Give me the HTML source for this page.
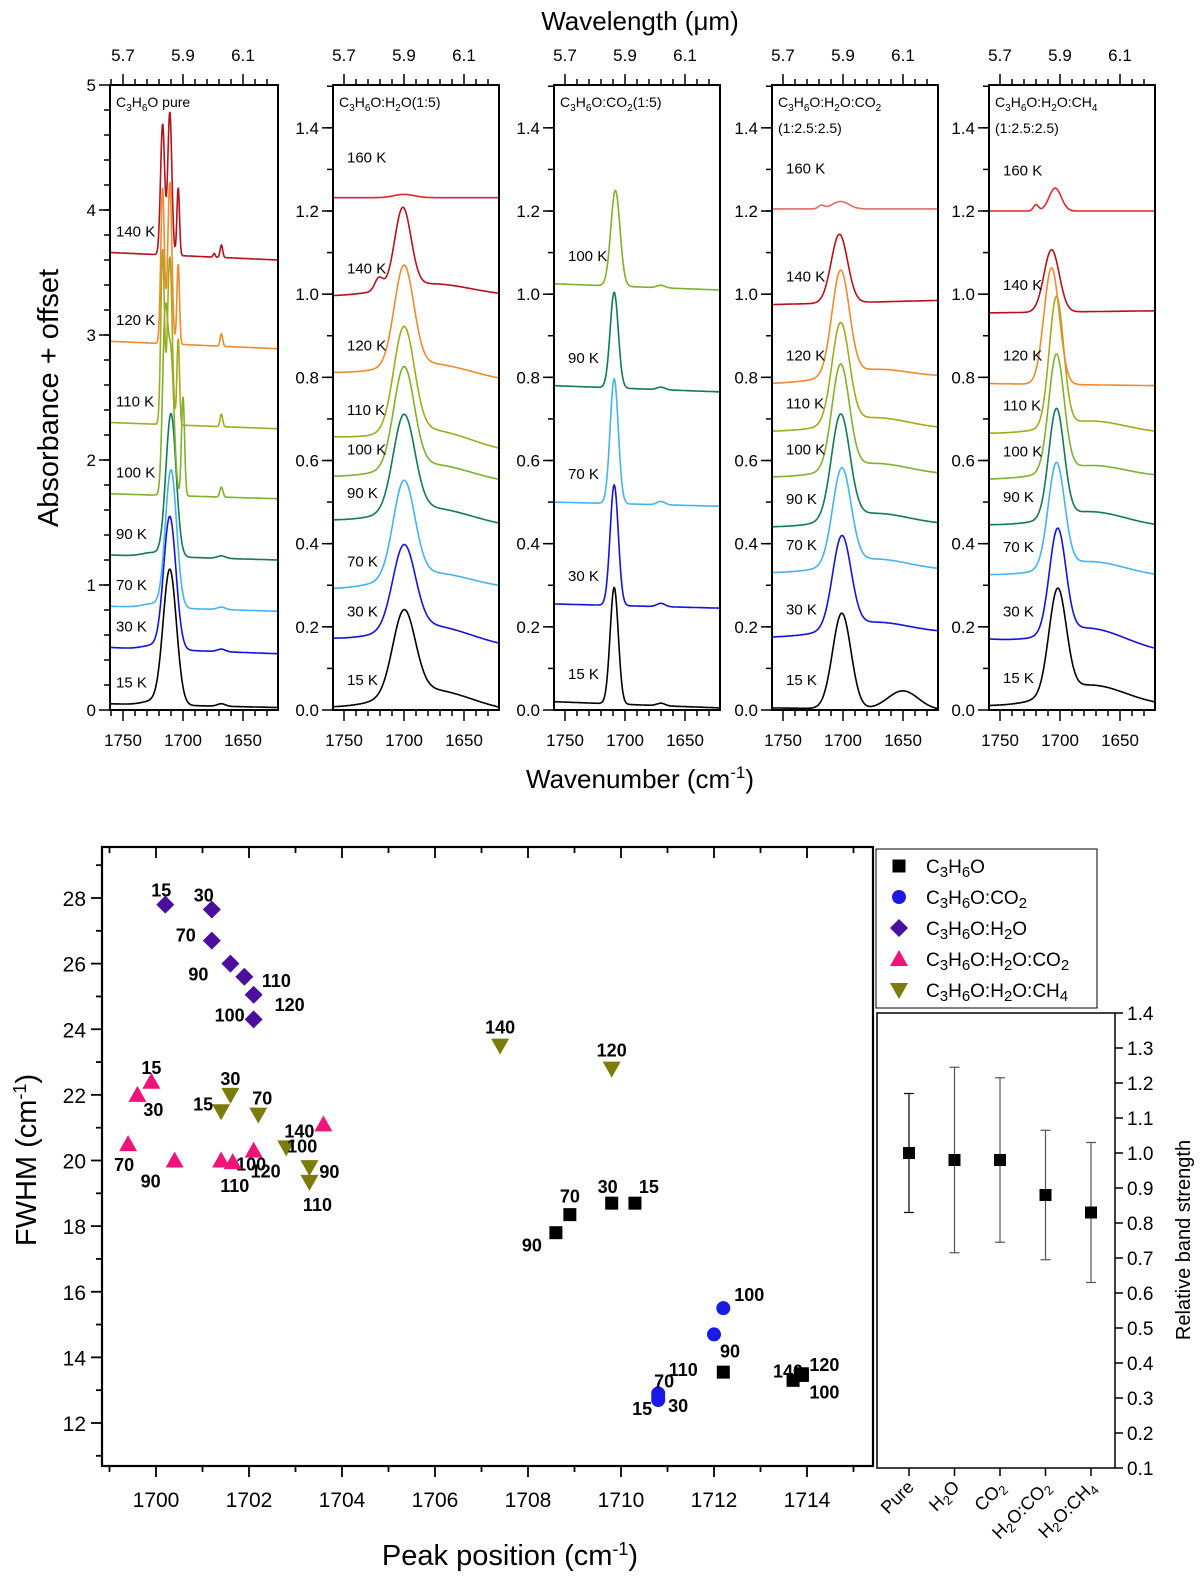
<!DOCTYPE html>
<html><head><meta charset="utf-8">
<style>
html,body{margin:0;padding:0;background:#fff;}
svg{display:block;font-family:"Liberation Sans",Arial,sans-serif;}
</style></head>
<body>
<svg id="fig" width="1200" height="1582" viewBox="0 0 1200 1582" xmlns="http://www.w3.org/2000/svg">
<text x="640" y="30" font-size="26" text-anchor="middle">Wavelength (μm)</text>
<text x="640" y="788" font-size="26" text-anchor="middle">Wavenumber (cm<tspan dy="-10" font-size="17">-1</tspan><tspan dy="10">)</tspan></text>
<text transform="translate(58,398) rotate(-90)" font-size="29" text-anchor="middle">Absorbance + offset</text>
<text transform="translate(36,1160) rotate(-90)" font-size="29" text-anchor="middle">FWHM (cm<tspan dy="-10" font-size="18">-1</tspan><tspan dy="10">)</tspan></text>
<text x="510" y="1565" font-size="29" text-anchor="middle">Peak position (cm<tspan dy="-10" font-size="18">-1</tspan><tspan dy="10">)</tspan></text>
<text transform="translate(1190,1240) rotate(-90)" font-size="20" text-anchor="middle">Relative band strength</text>
</svg>
<script>
// ---------- top spectra data ----------
const tempColors = {"15 K":"#000000","30 K":"#1414d8","70 K":"#45b4ee","90 K":"#127a55","100 K":"#7fb12c","110 K":"#a3aa1c","120 K":"#f08a2e","140 K":"#b5121b","160 K":"#e3262a"};
// each spectrum: [label, baseline-left, baseline-right, [[center,fwhm,amp],...]]
const pureSpectra = [
 ["15 K",0.05,0.02,[[1711,13,1.08],[1668,8,0.02],[1725,20,0.03]]],
 ["30 K",0.50,0.45,[[1711,12,1.06],[1668,8,0.02],[1725,20,0.03]]],
 ["70 K",0.83,0.79,[[1710,11,1.1],[1668,8,0.02],[1725,20,0.03]]],
 ["90 K",1.24,1.20,[[1710,10,1.14],[1668,8,0.02],[1725,20,0.03]]],
 ["100 K",1.73,1.69,[[1715,5,1.35],[1710,6,1.1],[1700,3,0.8],[1668,3,0.08]]],
 ["110 K",2.30,2.25,[[1717,3.5,1.4],[1711,4.5,1.35],[1704,2.5,0.7],[1668,2.5,0.1]]],
 ["120 K",2.95,2.89,[[1717,3.5,1.25],[1711,4,1.3],[1704,2.5,0.65],[1668,2.5,0.1]]],
 ["140 K",3.66,3.60,[[1717,4,1.05],[1711,4,1.15],[1704,2.5,0.55],[1668,2.5,0.1],[1674,2,0.03]]]
];
const h2oSpectra = [
 ["15 K",0.005,-0.005,[[1700,22,0.2],[1678,80,0.05]]],
 ["30 K",0.17,0.15,[[1700,22,0.2],[1678,80,0.045]]],
 ["70 K",0.29,0.29,[[1700,21,0.23],[1678,80,0.04]]],
 ["90 K",0.455,0.44,[[1700,21,0.23],[1678,80,0.04]]],
 ["100 K",0.56,0.545,[[1700,20,0.24],[1678,80,0.04]]],
 ["110 K",0.655,0.62,[[1700,20,0.25],[1678,80,0.04]]],
 ["120 K",0.81,0.79,[[1700,19,0.24],[1678,80,0.035]]],
 ["140 K",0.995,0.995,[[1701,16,0.19],[1721,8,0.03],[1678,80,0.03]]],
 ["160 K",1.232,1.232,[[1700,20,0.008]]]
];
const co2Spectra = [
 ["15 K",0.02,0.005,[[1709,8,0.28],[1670,8,0.006]]],
 ["30 K",0.255,0.245,[[1709,8,0.29],[1670,8,0.008]]],
 ["70 K",0.50,0.49,[[1709,8,0.30],[1670,8,0.008]]],
 ["90 K",0.78,0.765,[[1709,8,0.23],[1670,8,0.006]]],
 ["100 K",1.025,1.01,[[1708,9,0.23],[1670,8,0.006]]]
];
const h2oco2Spectra = [
 ["15 K",0.005,0.0,[[1701,18,0.23],[1650,30,0.045]]],
 ["30 K",0.175,0.185,[[1701,18,0.22],[1675,70,0.03]]],
 ["70 K",0.33,0.335,[[1701,18,0.23],[1675,70,0.03]]],
 ["90 K",0.44,0.445,[[1702,18,0.25],[1675,70,0.03]]],
 ["100 K",0.56,0.565,[[1702,17,0.25],[1675,70,0.03]]],
 ["110 K",0.67,0.675,[[1702,17,0.24],[1675,70,0.03]]],
 ["120 K",0.785,0.80,[[1702,17,0.25],[1675,70,0.025]]],
 ["140 K",0.975,0.985,[[1703,16,0.165]]],
 ["160 K",1.205,1.205,[[1702,16,0.018],[1718,6,0.008]]]
];
const h2och4Spectra = [
 ["15 K",0.01,0.01,[[1702,17,0.25],[1675,70,0.05]]],
 ["30 K",0.17,0.14,[[1702,16,0.25],[1675,70,0.045]]],
 ["70 K",0.325,0.32,[[1703,16,0.25],[1675,70,0.035]]],
 ["90 K",0.445,0.44,[[1703,15,0.26],[1675,70,0.035]]],
 ["100 K",0.555,0.56,[[1703,15,0.28],[1675,70,0.03]]],
 ["110 K",0.665,0.665,[[1703,14,0.31],[1675,70,0.03]]],
 ["120 K",0.785,0.78,[[1707,15,0.28]]],
 ["140 K",0.955,0.96,[[1707,15,0.15]]],
 ["160 K",1.20,1.20,[[1704,12,0.055],[1720,5,0.015]]]
];
const panelTitles = ["C<tspan dy='4' font-size='10'>3</tspan><tspan dy='-4'>H</tspan><tspan dy='4' font-size='10'>6</tspan><tspan dy='-4'>O pure</tspan>",
 "C<tspan dy='4' font-size='10'>3</tspan><tspan dy='-4'>H</tspan><tspan dy='4' font-size='10'>6</tspan><tspan dy='-4'>O:H</tspan><tspan dy='4' font-size='10'>2</tspan><tspan dy='-4'>O(1:5)</tspan>",
 "C<tspan dy='4' font-size='10'>3</tspan><tspan dy='-4'>H</tspan><tspan dy='4' font-size='10'>6</tspan><tspan dy='-4'>O:CO</tspan><tspan dy='4' font-size='10'>2</tspan><tspan dy='-4'>(1:5)</tspan>",
 "C<tspan dy='4' font-size='10'>3</tspan><tspan dy='-4'>H</tspan><tspan dy='4' font-size='10'>6</tspan><tspan dy='-4'>O:H</tspan><tspan dy='4' font-size='10'>2</tspan><tspan dy='-4'>O:CO</tspan><tspan dy='4' font-size='10'>2</tspan>",
 "C<tspan dy='4' font-size='10'>3</tspan><tspan dy='-4'>H</tspan><tspan dy='4' font-size='10'>6</tspan><tspan dy='-4'>O:H</tspan><tspan dy='4' font-size='10'>2</tspan><tspan dy='-4'>O:CH</tspan><tspan dy='4' font-size='10'>4</tspan>"];
const panelSub = ["","","","(1:2.5:2.5)","(1:2.5:2.5)"];
const pureYTicks = [0,1,2,3,4,5];
const mixYTicks = [0.0,0.2,0.4,0.6,0.8,1.0,1.2,1.4];
const wnTicks = [1750,1700,1650];
const wlTicks = ["5.7","5.9","6.1"];

// ---------- bottom scatter data ----------
const pureX = [1710.3,1709.8,1708.9,1708.6,1712.2,1713.7,1713.9,1713.9];
const pureY = [18.7,18.7,18.35,17.8,13.55,13.3,13.5,13.45];
const pureT = ["15","30","70","90","110","140","120","100"];
const co2X = [1710.8,1710.8,1710.8,1712.0,1712.2];
const co2Y = [12.7,12.8,12.9,14.7,15.5];
const co2T = ["15","30","70","90","100"];
const h2oX = [1700.2,1701.2,1701.2,1701.6,1701.9,1702.1,1702.1];
const h2oY = [27.8,27.65,26.7,26.0,25.6,25.05,24.3];
const h2oT = ["15","30","70","90","110","120","100"];
const hcX = [1699.9,1699.6,1699.4,1700.4,1701.4,1701.65,1702.1,1703.6];
const hcY = [22.4,22.0,20.5,20.0,20.0,19.95,20.3,21.1];
const hcT = ["15","30","70","90","100","110","120","140"];
const hchX = [1701.4,1701.6,1702.2,1702.8,1703.3,1703.3,1707.4,1709.8];
const hchY = [21.5,22.0,21.4,20.4,19.8,19.35,23.5,22.8];
const hchT = ["15","30","70","100","90","110","140","120"];
const fwhmTicks = [12,14,16,18,20,22,24,26,28];
const posTicks = [1700,1702,1704,1706,1708,1710,1712,1714];
// band strengths
const bandCats = ["Pure","H2O","CO2","H2O:CO2","H2O:CH4"];
const bandVal = [1.0,0.98,0.98,0.88,0.83];
const bandErr = [0.17,0.265,0.235,0.185,0.2];
const bandTicks = [0.1,0.2,0.3,0.4,0.5,0.6,0.7,0.8,0.9,1.0,1.1,1.2,1.3,1.4];

const NS="http://www.w3.org/2000/svg";
const svg=document.getElementById('fig');
function mk(tag,attrs,parent){const e=document.createElementNS(NS,tag);for(const k in attrs)e.setAttribute(k,attrs[k]);(parent||svg).appendChild(e);return e;}
function line(x1,y1,x2,y2,w,c,p){return mk('line',{x1,y1,x2,y2,stroke:c||'#000','stroke-width':w||1.5},p);}
function txt(x,y,s,size,anchor,p,bold){const t=mk('text',{x,y,'font-size':size,'text-anchor':anchor||'middle','font-weight':bold?'bold':'normal'},p);t.innerHTML=s;return t;}

// ---------- top panels ----------
const panels=[
 {x1750:123,ymax:5,ticks:pureYTicks,minor:0.2,data:pureSpectra,fmt:v=>String(v),lab:0.13},
 {x1750:344,ymax:1.503,ticks:mixYTicks,minor:0.1,data:h2oSpectra,fmt:v=>v.toFixed(1),lab:0.055},
 {x1750:565,ymax:1.503,ticks:mixYTicks,minor:0.1,data:co2Spectra,fmt:v=>v.toFixed(1),lab:0.055},
 {x1750:783,ymax:1.503,ticks:mixYTicks,minor:0.1,data:h2oco2Spectra,fmt:v=>v.toFixed(1),lab:0.055},
 {x1750:1000,ymax:1.503,ticks:mixYTicks,minor:0.1,data:h2och4Spectra,fmt:v=>v.toFixed(1),lab:0.055}
];
const TOP=85,BOT=710,S=1.2;
panels.forEach((P,pi)=>{
  const g=mk('g',{});
  
  
  P.L=P.x1750-(pi===0?13:11); P.R=P.x1750+155;
  const X=w=>P.x1750+(1750-w)*S;
  const wL=1750+(P.x1750-P.L)/S, wR=1750-(P.R-P.x1750)/S;
  const Y=v=>BOT-(v/P.ymax)*(BOT-TOP);
  P.data.forEach(sp=>{
    const [lab,b0,b1,peaks]=sp;
    let d='';
    for(let w=wL;w>=wR-0.01;w-=0.5){
      const f=(wL-w)/(wL-wR);
      let v=b0+(b1-b0)*f;
      peaks.forEach(([c,fw,a])=>{const sg=fw/2.3548;v+=a*Math.exp(-((w-c)*(w-c))/(2*sg*sg));});
      d+=(d?'L':'M')+X(w).toFixed(1)+','+Y(v).toFixed(1);
    }
    let col=tempColors[lab]; if(pi===3&&lab==="160 K")col="#e46a6a";
    const p=mk('path',{d,fill:'none',stroke:col,'stroke-width':1.6},g);
    
    
    const t=txt(P.L+(pi===0?6:14),Y(b0+P.lab+(lab==='160 K'?0.03:0)),lab,15,'start',g);
    
    
  });
  mk('rect',{x:P.L,y:TOP,width:P.R-P.L,height:BOT-TOP,fill:'none',stroke:'#000','stroke-width':2},g);
  P.ticks.forEach(v=>{line(P.L-11,Y(v),P.L,Y(v),1.5,'#000',g);txt(P.L-14,Y(v)+6,P.fmt(v),17,'end',g);});
  for(let m=P.minor;m<P.ymax;m+=P.minor){line(P.L-6,Y(m),P.L,Y(m),1.5,'#000',g);}
  for(let w=1760;w>=wR;w-=10){if(w>wL)continue;const major=w%50===0;line(X(w),BOT,X(w),BOT+(major?11:6),1.5,'#000',g);line(X(w),TOP,X(w),TOP-(major?11:6),1.5,'#000',g);}
  wnTicks.forEach(w=>txt(X(w),BOT+36,String(w),17,'middle',g));
  wlTicks.forEach((l,i)=>txt(X(wnTicks[i]),TOP-24,l,17,'middle',g));
  txt(P.L+6,TOP+22,panelTitles[pi],14,'start',g);
  if(panelSub[pi])txt(P.L+6,TOP+48,panelSub[pi],14,'start',g);
});

// ---------- scatter ----------
const SL=102,SR=873,ST=847,SB=1466;
const sx=v=>156+(v-1700)*46.5;
const sy=v=>1423-(v-12)*(1423-898)/16;
const sg=mk('g',{});


mk('rect',{x:SL,y:ST,width:SR-SL,height:SB-ST,fill:'none',stroke:'#000','stroke-width':2.2},sg);
posTicks.forEach(v=>{line(sx(v),SB,sx(v),SB+11,1.8,'#000',sg);line(sx(v),ST,sx(v),ST+11,1.8,'#000',sg);txt(sx(v),SB+41,String(v),21,'middle',sg);});
for(let v=1699;v<=1715;v+=2){line(sx(v),SB,sx(v),SB+6,1.8,'#000',sg);line(sx(v),ST,sx(v),ST+6,1.8,'#000',sg);}
fwhmTicks.forEach(v=>{line(SL-11,sy(v),SL,sy(v),1.8,'#000',sg);txt(SL-16,sy(v)+8,String(v),21,'end',sg);});
for(let v=11;v<=29;v+=2)line(SL-6,sy(v),SL,sy(v),1.8,'#000',sg);
function marker(type,x,y,c,p){
  if(type==='sq')return mk('rect',{x:x-6.5,y:y-6.5,width:13,height:13,fill:c},p);
  if(type==='ci')return mk('circle',{cx:x,cy:y,r:7,fill:c},p);
  if(type==='di')return mk('polygon',{points:`${x},${y-9} ${x+9},${y} ${x},${y+9} ${x-9},${y}`,fill:c},p);
  if(type==='up')return mk('polygon',{points:`${x},${y-9} ${x+9},${y+7} ${x-9},${y+7}`,fill:c},p);
  return mk('polygon',{points:`${x-9},${y-7} ${x+9},${y-7} ${x},${y+9}`,fill:c},p);
}
const series=[
 {X:pureX,Y:pureY,T:pureT,type:'sq',c:'#000',name:'pure',off:[[14,-15],[-4,-15],[0,-17],[-24,14],[-40,-1],[-5,-8],[22,-8],[22,18]]},
 {X:co2X,Y:co2Y,T:co2T,type:'ci',c:'#1a1ae6',name:'co2',off:[[-16,10],[20,10],[6,-11],[16,18],[26,-12]]},
 {X:h2oX,Y:h2oY,T:h2oT,type:'di',c:'#4b0f9e',name:'h2o',off:[[-4,-13],[-8,-13],[-26,-4],[-32,12],[32,5],[36,11],[-24,-3]]},
 {X:hcX,Y:hcY,T:hcT,type:'up',c:'#f0147a',name:'h2oco2',off:[[0,-13],[16,16],[-4,22],[-24,22],[30,5],[2,25],[12,22],[-24,8]]},
 {X:hchX,Y:hchY,T:hchT,type:'dn',c:'#7c7c0c',name:'h2och4',off:[[-18,-6],[0,-15],[4,-15],[16,0],[20,6],[8,24],[0,-17],[0,-17]]}
];
series.forEach(Sr=>{
  const g=mk('g',{},sg);
  
  
  Sr.X.forEach((v,i)=>{
    const m=marker(Sr.type,sx(v),sy(Sr.Y[i]),Sr.c,g);
    
    
    const o=Sr.off[i]||[0,-12];
    txt(sx(v)+o[0],sy(Sr.Y[i])+o[1]+5,Sr.T[i],18,'middle',g,true);
  });
});

// legend
const lg=mk('g',{});


mk('rect',{x:876,y:849,width:221,height:159,fill:'#fff',stroke:'#000','stroke-width':1},lg);
const legTypes=['sq','ci','di','up','dn'],legCols=['#000','#1a1ae6','#4b0f9e','#f0147a','#7c7c0c'];
const legLabels=["C<tspan dy='4' font-size='15'>3</tspan><tspan dy='-4'>H</tspan><tspan dy='4' font-size='15'>6</tspan><tspan dy='-4'>O</tspan>",
 "C<tspan dy='4' font-size='15'>3</tspan><tspan dy='-4'>H</tspan><tspan dy='4' font-size='15'>6</tspan><tspan dy='-4'>O:CO</tspan><tspan dy='4' font-size='15'>2</tspan>",
 "C<tspan dy='4' font-size='15'>3</tspan><tspan dy='-4'>H</tspan><tspan dy='4' font-size='15'>6</tspan><tspan dy='-4'>O:H</tspan><tspan dy='4' font-size='15'>2</tspan><tspan dy='-4'>O</tspan>",
 "C<tspan dy='4' font-size='15'>3</tspan><tspan dy='-4'>H</tspan><tspan dy='4' font-size='15'>6</tspan><tspan dy='-4'>O:H</tspan><tspan dy='4' font-size='15'>2</tspan><tspan dy='-4'>O:CO</tspan><tspan dy='4' font-size='15'>2</tspan>",
 "C<tspan dy='4' font-size='15'>3</tspan><tspan dy='-4'>H</tspan><tspan dy='4' font-size='15'>6</tspan><tspan dy='-4'>O:H</tspan><tspan dy='4' font-size='15'>2</tspan><tspan dy='-4'>O:CH</tspan><tspan dy='4' font-size='15'>4</tspan>"];
legLabels.forEach((n,i)=>{
  const y=866+i*31;
  marker(legTypes[i],899,y,legCols[i],lg);
  const t=txt(926,y+7,n,19,'start',lg);
  
  
});

// band strength panel
const BL=877,BR=1115,BT=1013,BB=1468;
const by=v=>BB-(v-0.1)*(BB-BT)/1.3;
const bx=i=>909+i*45.5;
const bg=mk('g',{});


mk('rect',{x:BL,y:BT,width:BR-BL,height:BB-BT,fill:'none',stroke:'#000','stroke-width':1.5},bg);
bandTicks.forEach(v=>{line(BR,by(v),BR+8,by(v),1.5,'#000',bg);txt(BR+12,by(v)+7,v.toFixed(1),19,'start',bg);});
const catLabels=["Pure","H<tspan dy='4' font-size='13'>2</tspan><tspan dy='-4'>O</tspan>","CO<tspan dy='4' font-size='13'>2</tspan>","H<tspan dy='4' font-size='13'>2</tspan><tspan dy='-4'>O:CO</tspan><tspan dy='4' font-size='13'>2</tspan>","H<tspan dy='4' font-size='13'>2</tspan><tspan dy='-4'>O:CH</tspan><tspan dy='4' font-size='13'>4</tspan>"];
bandCats.forEach((c,i)=>{
  const x=bx(i);
  line(x,BB,x,BB+8,1.5,'#000',bg);
  const t=mk('text',{transform:`translate(${x+6},${BB+20}) rotate(-45)`,'font-size':18,'text-anchor':'end'},bg);
  t.innerHTML=catLabels[i];
  const col=i===0?'#000':'#555';
  line(x,by(bandVal[i]-bandErr[i]),x,by(bandVal[i]+bandErr[i]),1.2,col,bg);
  line(x-5,by(bandVal[i]+bandErr[i]),x+5,by(bandVal[i]+bandErr[i]),1.2,col,bg);
  line(x-5,by(bandVal[i]-bandErr[i]),x+5,by(bandVal[i]-bandErr[i]),1.2,col,bg);
  const r=mk('rect',{x:x-6,y:by(bandVal[i])-6,width:12,height:12,fill:'#000'},bg);
  
  
});
</script>
</body></html>
